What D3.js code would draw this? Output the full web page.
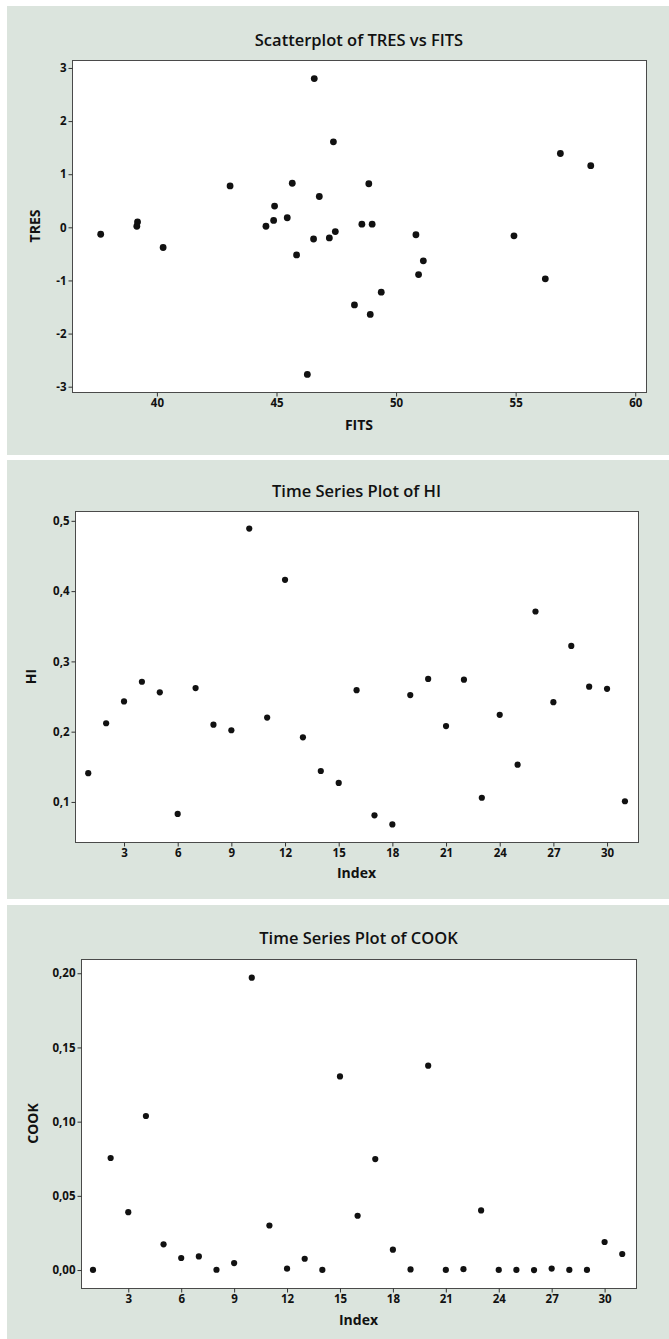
<!DOCTYPE html>
<meta charset="utf-8">
<style>

body {
  margin: 0;
  background: #fff;
}

.panel {
  fill: #dbe4dd;
}

.frame {
  fill: #fff;
  stroke: #4a4a4a;
  stroke-width: 1px;
}

.axis text {
  font-family: "Open Sans", sans-serif;
  font-size: 11.5px;
  font-weight: 700;
  fill: #111;
}

.axis path {
  display: none;
}

.axis line {
  stroke: #333;
}

.title {
  font-family: "Open Sans", sans-serif;
  font-size: 16.5px;
  font-weight: 600;
  fill: #111;
}

.label {
  font-family: "Open Sans", sans-serif;
  font-size: 14px;
  font-weight: 700;
  fill: #111;
}

circle {
  fill: #111;
}

</style>
<body>
<script src="https://d3js.org/d3.v7.min.js"></script>
<script>

var width = 669,
    height = 1339;

// scatterplot of TRES vs FITS
var fits = [37.65, 39.19, 39.16, 40.26, 43.06, 44.56, 44.88, 44.92, 45.45, 45.66,
            45.84, 46.29, 46.55, 46.58, 46.79, 47.21, 47.38, 47.46, 48.26, 48.57,
            48.86, 49.00, 48.92, 49.38, 50.83, 51.14, 50.94, 54.93, 56.24, 56.87, 58.14];
var tres = [-0.13, 0.10, 0.02, -0.38, 0.78, 0.02, 0.13, 0.40, 0.18, 0.83,
            -0.52, -2.77, -0.22, 2.80, 0.58, -0.20, 1.61, -0.08, -1.46, 0.06,
            0.82, 0.06, -1.64, -1.22, -0.14, -0.63, -0.89, -0.16, -0.97, 1.39, 1.16];

// time series values, index 1..31
var index = d3.range(1, 32);
var hi = [0.141, 0.212, 0.243, 0.271, 0.256, 0.083, 0.262, 0.210, 0.202, 0.489,
          0.220, 0.416, 0.192, 0.144, 0.127, 0.259, 0.081, 0.068, 0.252, 0.275,
          0.208, 0.274, 0.106, 0.224, 0.153, 0.371, 0.242, 0.322, 0.264, 0.261, 0.101];
var cook = [0.0001, 0.0755, 0.0390, 0.1038, 0.0173, 0.0081, 0.0092, 0.0002, 0.0047, 0.1970,
            0.0300, 0.0009, 0.0076, 0.0001, 0.1305, 0.0366, 0.0748, 0.0137, 0.0004, 0.1377,
            0.0001, 0.0006, 0.0402, 0.0001, 0.0001, 0.0000, 0.0010, 0.0001, 0.0001, 0.0189, 0.0108];

var fitsTicks = [40, 45, 50, 55, 60],
    tresTicks = [-3, -2, -1, 0, 1, 2, 3],
    indexTicks = [3, 6, 9, 12, 15, 18, 21, 24, 27, 30],
    hiTicks = [0.1, 0.2, 0.3, 0.4, 0.5],
    cookTicks = [0, 0.05, 0.10, 0.15, 0.20];

// comma decimals and a plain hyphen for negatives, as in the original
var loc = d3.formatLocale({decimal: ",", thousands: ".", grouping: [3], currency: ["", ""], minus: "-"});

var svg = d3.select("body").append("svg")
    .attr("width", width)
    .attr("height", height);

var panels = [
  {
    top: 6, bottom: 455, left: 7,
    frame: {x0: 72, x1: 646, y0: 60, y1: 392},
    xDomain: [36.45, 60.45], yDomain: [-3.10, 3.15],
    xs: fits, ys: tres, xTicks: fitsTicks, yTicks: tresTicks,
    xFmt: loc.format("d"), yFmt: loc.format("d"),
    title: "Scatterplot of TRES vs FITS", titleY: 46,
    xLabel: "FITS", xLabelY: 430, yLabel: "TRES", yLabelX: 40, r: 3.4
  },
  {
    top: 460, bottom: 899, left: 7,
    frame: {x0: 75, x1: 638, y0: 511, y1: 842},
    xDomain: [0.26, 31.73], yDomain: [0.043, 0.514],
    xs: index, ys: hi, xTicks: indexTicks, yTicks: hiTicks,
    xFmt: loc.format("d"), yFmt: loc.format(".1f"),
    title: "Time Series Plot of HI", titleY: 497,
    xLabel: "Index", xLabelY: 878, yLabel: "HI", yLabelX: 36, r: 3.1
  },
  {
    top: 905, bottom: 1339, left: 7,
    frame: {x0: 81, x1: 636, y0: 959, y1: 1288},
    xDomain: [0.32, 31.78], yDomain: [-0.0121, 0.2096],
    xs: index, ys: cook, xTicks: indexTicks, yTicks: cookTicks,
    xFmt: loc.format("d"), yFmt: loc.format(".2f"),
    title: "Time Series Plot of COOK", titleY: 944,
    xLabel: "Index", xLabelY: 1325, yLabel: "COOK", yLabelX: 38, r: 3.1
  }
];

panels.forEach(function(p) {
  var f = p.frame;
  var g = svg.append("g");

  g.append("rect")
      .attr("class", "panel")
      .attr("x", p.left)
      .attr("y", p.top)
      .attr("width", width - p.left)
      .attr("height", p.bottom - p.top);

  g.append("rect")
      .attr("class", "frame")
      .attr("x", f.x0 + 0.5)
      .attr("y", f.y0 + 0.5)
      .attr("width", f.x1 - f.x0)
      .attr("height", f.y1 - f.y0);

  var x = d3.scaleLinear().domain(p.xDomain).range([f.x0, f.x1]),
      y = d3.scaleLinear().domain(p.yDomain).range([f.y1, f.y0]);

  g.append("g")
      .attr("class", "axis")
      .attr("transform", "translate(0," + (f.y1 + 0.5) + ")")
      .call(d3.axisBottom(x).tickValues(p.xTicks).tickFormat(p.xFmt).tickSize(4).tickPadding(2));

  g.append("g")
      .attr("class", "axis")
      .attr("transform", "translate(" + (f.x0 + 0.5) + ",0)")
      .call(d3.axisLeft(y).tickValues(p.yTicks).tickFormat(p.yFmt).tickSize(4).tickPadding(2));

  g.append("text")
      .attr("class", "title")
      .attr("x", (f.x0 + f.x1) / 2)
      .attr("y", p.titleY)
      .attr("text-anchor", "middle")
      .text(p.title);

  g.append("text")
      .attr("class", "label")
      .attr("x", (f.x0 + f.x1) / 2)
      .attr("y", p.xLabelY)
      .attr("text-anchor", "middle")
      .text(p.xLabel);

  g.append("text")
      .attr("class", "label")
      .attr("transform", "translate(" + p.yLabelX + "," + ((f.y0 + f.y1) / 2) + ") rotate(-90)")
      .attr("text-anchor", "middle")
      .text(p.yLabel);

  g.selectAll("circle")
      .data(p.xs)
    .enter().append("circle")
      .attr("cx", function(d) { return x(d); })
      .attr("cy", function(d, i) { return y(p.ys[i]); })
      .attr("r", p.r);
});

</script>
